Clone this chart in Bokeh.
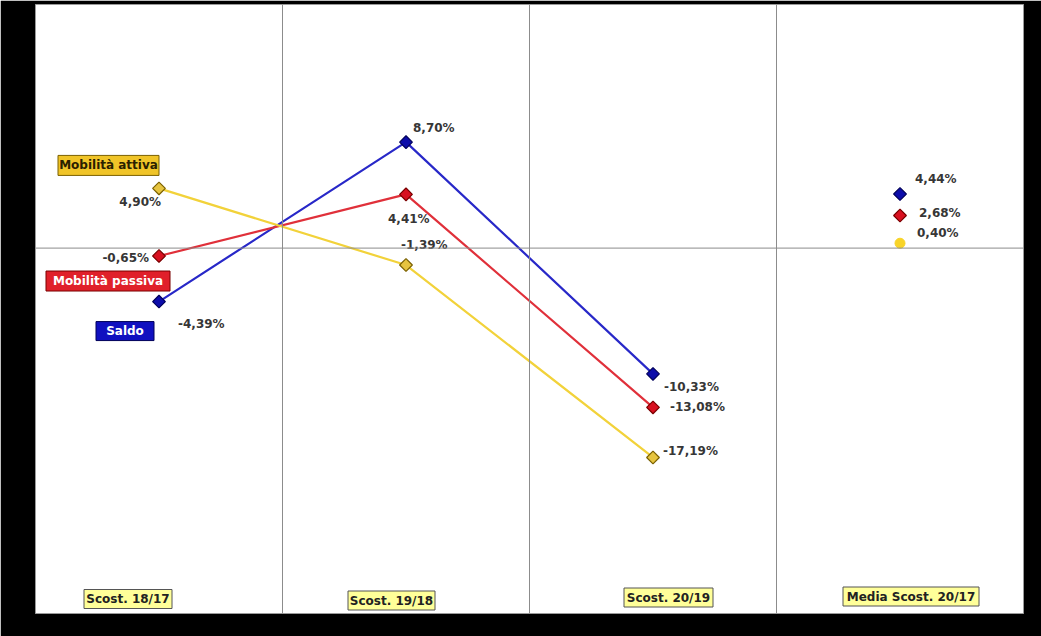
from bokeh.plotting import figure
from bokeh.models import Span, Range1d, ColumnDataSource
from bokeh.core.properties import value
from bokeh.embed import file_html
from bokeh.resources import INLINE

# ---------------- data ----------------
categories = ["Scost. 18/17", "Scost. 19/18", "Scost. 20/19", "Media Scost. 20/17"]
series_names = ["Saldo", "Mobilità passiva", "Mobilità attiva"]
saldo = [-4.39, 8.70, -10.33, 4.44]
passiva = [-0.65, 4.41, -13.08, 2.68]
attiva = [4.90, -1.39, -17.19, 0.40]

# ---------------- styles / layout ----------------
W, H = 1041, 636
ML, MR, MT, MB = 35, 18, 4, 23
FW, FH = W - ML - MR, H - MT - MB
X0, X1, Y0, Y1 = 0, 4, -30, 20
FONT = value("DejaVu Sans")


def px_x(px):
    return px * (X1 - X0) / FW


def px_y(px):  # screen px downward -> data units
    return -px * (Y1 - Y0) / FH


def fmt(v):
    return ("%.2f" % v).replace(".", ",") + "%"


colors = {
    "Saldo": dict(line="#2828c8", fill="#0c0caa", edge="#00005a",
                  box="#1010c0", text="white"),
    "Mobilità passiva": dict(line="#e0303a", fill="#d81020", edge="#7a0000",
                             box="#e0202a", text="white"),
    "Mobilità attiva": dict(line="#f2d23a", fill="#e6c440", edge="#7a6000",
                            box="#f0c428", text="#2a2000"),
}
values = {"Saldo": saldo, "Mobilità passiva": passiva, "Mobilità attiva": attiva}

# label offsets (screen px) and alignment for each value label
lab_dx = {"Saldo": [19, 7, 11, 15], "Mobilità passiva": [-10, -18, 17, 19],
          "Mobilità attiva": [2, -5, 10, 17]}
lab_dy = {"Saldo": [22, -14, 13, -15], "Mobilità passiva": [2, 25, 0, -2],
          "Mobilità attiva": [14, -20, -6, -10]}
lab_al = {"Saldo": ["left", "left", "left", "left"],
          "Mobilità passiva": ["right", "left", "left", "left"],
          "Mobilità attiva": ["right", "left", "left", "left"]}

# series name boxes: offset from first marker (px), box size (px)
box_off = {"Saldo": (-34, 29.5, 58, 19), "Mobilità passiva": (-51, 25, 124, 20),
           "Mobilità attiva": (-50.5, -23, 101, 20)}

# category label boxes: offset from category centre (px), width (px)
cat_dx = [-31, -14.5, 15.5, 11]
cat_y_px = [598.5, 600, 597, 596]
cat_w = [88, 87, 89, 136]

p = figure(width=W, height=H, x_range=Range1d(X0, X1), y_range=Range1d(Y0, Y1),
           output_backend="svg", toolbar_location=None,
           x_axis_location=None, y_axis_location=None,
           min_border_left=ML, min_border_right=MR, min_border_top=MT,
           min_border_bottom=MB, border_fill_color="black",
           background_fill_color="white", outline_line_color="#9a9a9a",
           outline_line_width=1)
p.grid.visible = False

for gx in range(1, len(categories)):
    p.add_layout(Span(location=gx, dimension="height", line_color="#8c8c8c",
                      line_width=1))
p.add_layout(Span(location=0, dimension="width", line_color="#8c8c8c",
                  line_width=1))

xs = [i + 0.5 for i in range(len(categories))]

for name in series_names:
    c = colors[name]
    vals = values[name]
    p.line(xs[:3], vals[:3], line_color=c["line"], line_width=2.2)
    p.scatter(xs[:3], vals[:3], marker="square", angle=0.7854, size=9,
              fill_color=c["fill"], line_color=c["edge"], line_width=1.2)
    if name == "Mobilità attiva":
        p.scatter([xs[3]], [vals[3]], marker="circle", size=10,
                  fill_color="#f8d428", line_color="#f8d428")
    else:
        p.scatter([xs[3]], [vals[3]], marker="square", angle=0.7854, size=9,
                  fill_color=c["fill"], line_color=c["edge"], line_width=1.2)

    src = ColumnDataSource(dict(x=xs, y=vals, t=[fmt(v) for v in vals],
                                dx=lab_dx[name], dy=lab_dy[name],
                                al=lab_al[name]))
    p.text(x="x", y="y", text="t", x_offset="dx", y_offset="dy",
           text_align="al", text_baseline="middle", text_font=FONT,
           text_font_style="bold", text_font_size="12px", text_color="#363636",
           source=src)

    # series name box
    ox, oy, bw, bh = box_off[name]
    bx = xs[0] + px_x(ox)
    by = vals[0] + px_y(oy)
    p.rect([bx], [by], width=bw, height=bh, width_units="screen",
           height_units="screen", fill_color=c["box"], line_color=c["edge"],
           line_width=1)
    p.text([bx], [by], text=[name], text_align="center",
           text_baseline="middle", text_font=FONT, text_font_style="bold",
           text_font_size="12px", text_color=c["text"])

# category labels
cx = [xs[i] + px_x(cat_dx[i]) for i in range(len(categories))]
cy = [Y1 + px_y(cat_y_px[i] - MT) for i in range(len(categories))]
p.rect(cx, cy, width=cat_w, height=19, width_units="screen",
       height_units="screen", fill_color="#ffff99", line_color="#555555",
       line_width=1)
p.text(cx, cy, text=categories, text_align="center", text_baseline="middle",
       text_font=FONT, text_font_style="bold", text_font_size="12px",
       text_color="#222222")

open("out.html", "w").write(file_html(p, INLINE))
